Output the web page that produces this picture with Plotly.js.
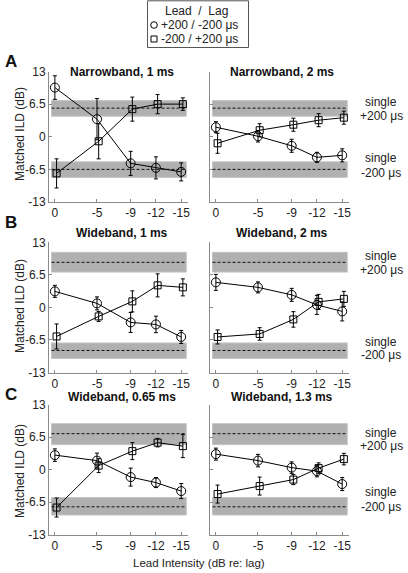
<!DOCTYPE html>
<html>
<head>
<meta charset="utf-8">
<script src="https://cdn.plot.ly/plotly-3.0.1.min.js"></script>
<style>html,body{margin:0;padding:0;background:#fff;}#chart{width:408px;height:573px;}</style>
</head>
<body>
<div id="chart"></div>
<script>
// ---------------- DATA ----------------
const leadIntensity = [0, -5, -9, -12, -15];
const xTickText = ['0', '-5', '-9', '-12', '-15'];
const yTickVals = [13, 6.5, 0, -6.5, -13];
const yTickText = ['13', '6.5', '0', '-6.5', '-13'];

const panelTitles = ['Narrowband, 1 ms', 'Narrowband, 2 ms', 'Wideband, 1 ms', 'Wideband, 2 ms', 'Wideband, 0.65 ms', 'Wideband, 1.3 ms'];
const rowLetters = ['A', 'B', 'C'];
const legendTitle = 'Lead  /  Lag';
const seriesNames = ['+200 / -200 \u03bcs', '-200 / +200 \u03bcs'];

// +200/-200 (circles) and -200/+200 (squares), mean and SEM
const nb1Circle = [9.8, 3.5, -5.3, -6.2, -7.0];
const nb1CircleErr = [2.35, 4.1, 2.4, 2.2, 1.8];
const nb1Square = [-7.3, -0.9, 5.5, 6.5, 6.5];
const nb1SquareErr = [2.9, 3.5, 2.4, 1.9, 1.25];

const nb2Circle = [1.9, 0.1, -1.8, -4.1, -3.7];
const nb2CircleErr = [1.1, 1.15, 1.3, 1.0, 1.3];
const nb2Square = [-1.3, 1.3, 2.4, 3.3, 3.8];
const nb2SquareErr = [2.0, 1.3, 1.3, 1.3, 1.3];

const wb1Circle = [3.2, 0.8, -3.0, -3.4, -5.9];
const wb1CircleErr = [1.2, 1.3, 2.0, 1.65, 1.3];
const wb1Square = [-5.8, -1.8, 1.2, 4.4, 4.0];
const wb1SquareErr = [2.5, 1.0, 2.1, 2.3, 1.7];

const wb2Circle = [5.0, 4.0, 2.5, 0.5, -0.8];
const wb2CircleErr = [1.6, 1.1, 1.3, 1.9, 1.9];
const wb2Square = [-5.9, -5.3, -2.4, 1.1, 1.7];
const wb2SquareErr = [1.4, 1.25, 1.55, 1.5, 1.5];

const wb065Circle = [2.9, 1.8, -1.5, -2.6, -4.3];
const wb065CircleErr = [1.25, 1.5, 1.8, 1.0, 1.5];
const wb065Square = [-7.6, 0.8, 3.7, 5.4, 4.7];
const wb065SquareErr = [1.9, 1.4, 1.7, 0.85, 2.3];

const wb13Circle = [3.1, 1.8, 0.4, -0.3, -2.9];
const wb13CircleErr = [1.2, 1.25, 1.15, 1.15, 1.3];
const wb13Square = [-4.9, -3.3, -2.0, 0.3, 2.1];
const wb13SquareErr = [1.8, 1.8, 1.0, 1.05, 1.15];

// single-click reference (mean, low, high) per row A, B, C
const singlePlusMean = [5.7, 9.0, 7.2];
const singlePlusLow = [4.1, 7.05, 5.0];
const singlePlusHigh = [7.2, 11.0, 9.2];
const singleMinusMean = [-6.5, -8.6, -7.45];
const singleMinusLow = [-8.1, -10.2, -9.1];
const singleMinusHigh = [-5.0, -7.1, -5.6];
const singlePlusLabel = ['single', '+200 \u03bcs'];
const singleMinusLabel = ['single', '-200 \u03bcs'];

const circleSets = [[nb1Circle, nb1CircleErr], [nb2Circle, nb2CircleErr], [wb1Circle, wb1CircleErr], [wb2Circle, wb2CircleErr], [wb065Circle, wb065CircleErr], [wb13Circle, wb13CircleErr]];
const squareSets = [[nb1Square, nb1SquareErr], [nb2Square, nb2SquareErr], [wb1Square, wb1SquareErr], [wb2Square, wb2SquareErr], [wb065Square, wb065SquareErr], [wb13Square, wb13SquareErr]];

// ---------------- LAYOUT HELPERS ----------------
const W = 408, H = 573;
const fx = p => p / W;
const fy = p => 1 - p / H;
const FONT = 'Liberation Sans, Arial, Helvetica, sans-serif';
const colPx = [[49, 187.5], [210, 348.5]];
const rowPx = [[71.5, 202], [242.3, 372.5], [404.7, 534.5]];
const titleX = [122, 282];
const titleY = [71.5, 233, 397];
const letterY = [62, 222, 394];
const yTitleY = [134, 306, 471];
const plusLabelY = [[102, 116], [256, 270], [433, 446]];
const minusLabelY = [[158, 173], [342, 355], [492, 507]];
const bandX = [0.4, -15.6];
const sqOffset = -0.2;

const traces = [];
const layout = {
  width: W, height: H,
  margin: {l: 0, r: 0, t: 0, b: 0},
  paper_bgcolor: '#fff', plot_bgcolor: 'rgba(0,0,0,0)',
  showlegend: false,
  font: {family: FONT, size: 12, color: '#222'},
  shapes: [], annotations: []
};

for (let p = 0; p < 6; p++) {
  const row = Math.floor(p / 2), col = p % 2;
  const n = p + 1;
  const xa = 'xaxis' + (n === 1 ? '' : n), ya = 'yaxis' + (n === 1 ? '' : n);
  const xr = 'x' + (n === 1 ? '' : n), yr = 'y' + (n === 1 ? '' : n);
  layout[xa] = {
    domain: [fx(colPx[col][0]), fx(colPx[col][1])],
    range: [0.7, -15.75], anchor: yr,
    tickmode: 'array', tickvals: leadIntensity, ticktext: xTickText,
    ticks: 'inside', ticklen: 3, tickcolor: '#8a8a8a',
    showline: true, linecolor: '#8a8a8a', linewidth: 1,
    showgrid: false, zeroline: false, fixedrange: true,
    tickfont: {family: FONT, size: 12, color: '#222'}
  };
  layout[ya] = {
    domain: [fy(rowPx[row][1]), fy(rowPx[row][0])],
    range: [-13, 13], anchor: xr,
    tickmode: 'array', tickvals: yTickVals, ticktext: yTickText,
    showticklabels: col === 0,
    ticks: 'inside', ticklen: 3, tickcolor: '#8a8a8a',
    showline: true, linecolor: '#8a8a8a', linewidth: 1,
    showgrid: false, zeroline: false, fixedrange: true,
    tickfont: {family: FONT, size: 12, color: '#222'}
  };
  // reference bands
  const bands = [[singlePlusLow[row], singlePlusHigh[row], singlePlusMean[row]], [singleMinusLow[row], singleMinusHigh[row], singleMinusMean[row]]];
  bands.forEach(b => {
    layout.shapes.push({type: 'rect', xref: xr, yref: yr, x0: bandX[0], x1: bandX[1], y0: b[0], y1: b[1],
      fillcolor: '#b0b0b0', line: {width: 1, color: '#c4c4c4'}, layer: 'below'});
    layout.shapes.push({type: 'line', xref: xr, yref: yr, x0: bandX[0], x1: bandX[1], y0: b[2], y1: b[2],
      line: {width: 1, color: '#111', dash: '3px,2px'}, layer: 'below'});
  });
  // data
  traces.push({
    x: leadIntensity, y: circleSets[p][0], xaxis: xr, yaxis: yr, name: seriesNames[0],
    mode: 'lines+markers', line: {color: '#000', width: 1},
    marker: {symbol: 'circle-open', size: 9, color: '#000', line: {width: 1, color: '#000'}},
    error_y: {type: 'data', array: circleSets[p][1], visible: true, color: '#000', thickness: 1, width: 2}
  });
  traces.push({
    x: leadIntensity.map(v => v + sqOffset), y: squareSets[p][0], xaxis: xr, yaxis: yr, name: seriesNames[1],
    mode: 'lines+markers', line: {color: '#000', width: 1},
    marker: {symbol: 'square-open', size: 7, color: '#000', line: {width: 1, color: '#000'}},
    error_y: {type: 'data', array: squareSets[p][1], visible: true, color: '#000', thickness: 1, width: 2}
  });
  // panel title
  layout.annotations.push({text: '<b>' + panelTitles[p] + '</b>', xref: 'paper', yref: 'paper',
    x: fx(titleX[col]), y: fy(titleY[row]), xanchor: 'center', yanchor: 'middle', showarrow: false,
    font: {family: FONT, size: 12, color: '#111'}});
}

for (let r = 0; r < 3; r++) {
  layout.annotations.push({text: '<b>' + rowLetters[r] + '</b>', xref: 'paper', yref: 'paper',
    x: fx(11), y: fy(letterY[r]), xanchor: 'center', yanchor: 'middle', showarrow: false,
    font: {family: FONT, size: 17, color: '#111'}});
  layout.annotations.push({text: 'Matched ILD (dB)', xref: 'paper', yref: 'paper', textangle: -90,
    x: fx(20), y: fy(yTitleY[r]), xanchor: 'center', yanchor: 'middle', showarrow: false,
    font: {family: FONT, size: 12, color: '#222'}});
  for (let k = 0; k < 2; k++) {
    layout.annotations.push({text: singlePlusLabel[k], xref: 'paper', yref: 'paper',
      x: fx(381), y: fy(plusLabelY[r][k]), xanchor: 'center', yanchor: 'middle', showarrow: false,
      font: {family: FONT, size: 12, color: '#222'}});
    layout.annotations.push({text: singleMinusLabel[k], xref: 'paper', yref: 'paper',
      x: fx(381), y: fy(minusLabelY[r][k]), xanchor: 'center', yanchor: 'middle', showarrow: false,
      font: {family: FONT, size: 12, color: '#222'}});
  }
}

layout.annotations.push({text: 'Lead Intensity (dB re: lag)', xref: 'paper', yref: 'paper',
  x: fx(199), y: fy(563), xanchor: 'center', yanchor: 'middle', showarrow: false,
  font: {family: FONT, size: 11.5, color: '#222'}});

// legend box (drawn)
layout.shapes.push({type: 'rect', xref: 'paper', yref: 'paper', x0: fx(147.5), x1: fx(248.5), y0: fy(47.5), y1: fy(0.8),
  line: {color: '#555', width: 1}, fillcolor: '#fff'});
layout.shapes.push({type: 'circle', xref: 'paper', yref: 'paper', x0: fx(150.7), x1: fx(157.3), y0: fy(28.3), y1: fy(21.7),
  line: {color: '#000', width: 1}});
layout.shapes.push({type: 'rect', xref: 'paper', yref: 'paper', x0: fx(151), x1: fx(157), y0: fy(42), y1: fy(36),
  line: {color: '#000', width: 1}});
layout.annotations.push({text: legendTitle, xref: 'paper', yref: 'paper', x: fx(196), y: fy(11),
  xanchor: 'center', yanchor: 'middle', showarrow: false, font: {family: FONT, size: 12, color: '#222'}});
layout.annotations.push({text: seriesNames[0], xref: 'paper', yref: 'paper', x: fx(159), y: fy(25),
  xanchor: 'left', yanchor: 'middle', showarrow: false, font: {family: FONT, size: 12, color: '#222'}});
layout.annotations.push({text: seriesNames[1], xref: 'paper', yref: 'paper', x: fx(159), y: fy(39),
  xanchor: 'left', yanchor: 'middle', showarrow: false, font: {family: FONT, size: 12, color: '#222'}});

Plotly.newPlot('chart', traces, layout, {staticPlot: true, displayModeBar: false});
</script>
</body>
</html>
